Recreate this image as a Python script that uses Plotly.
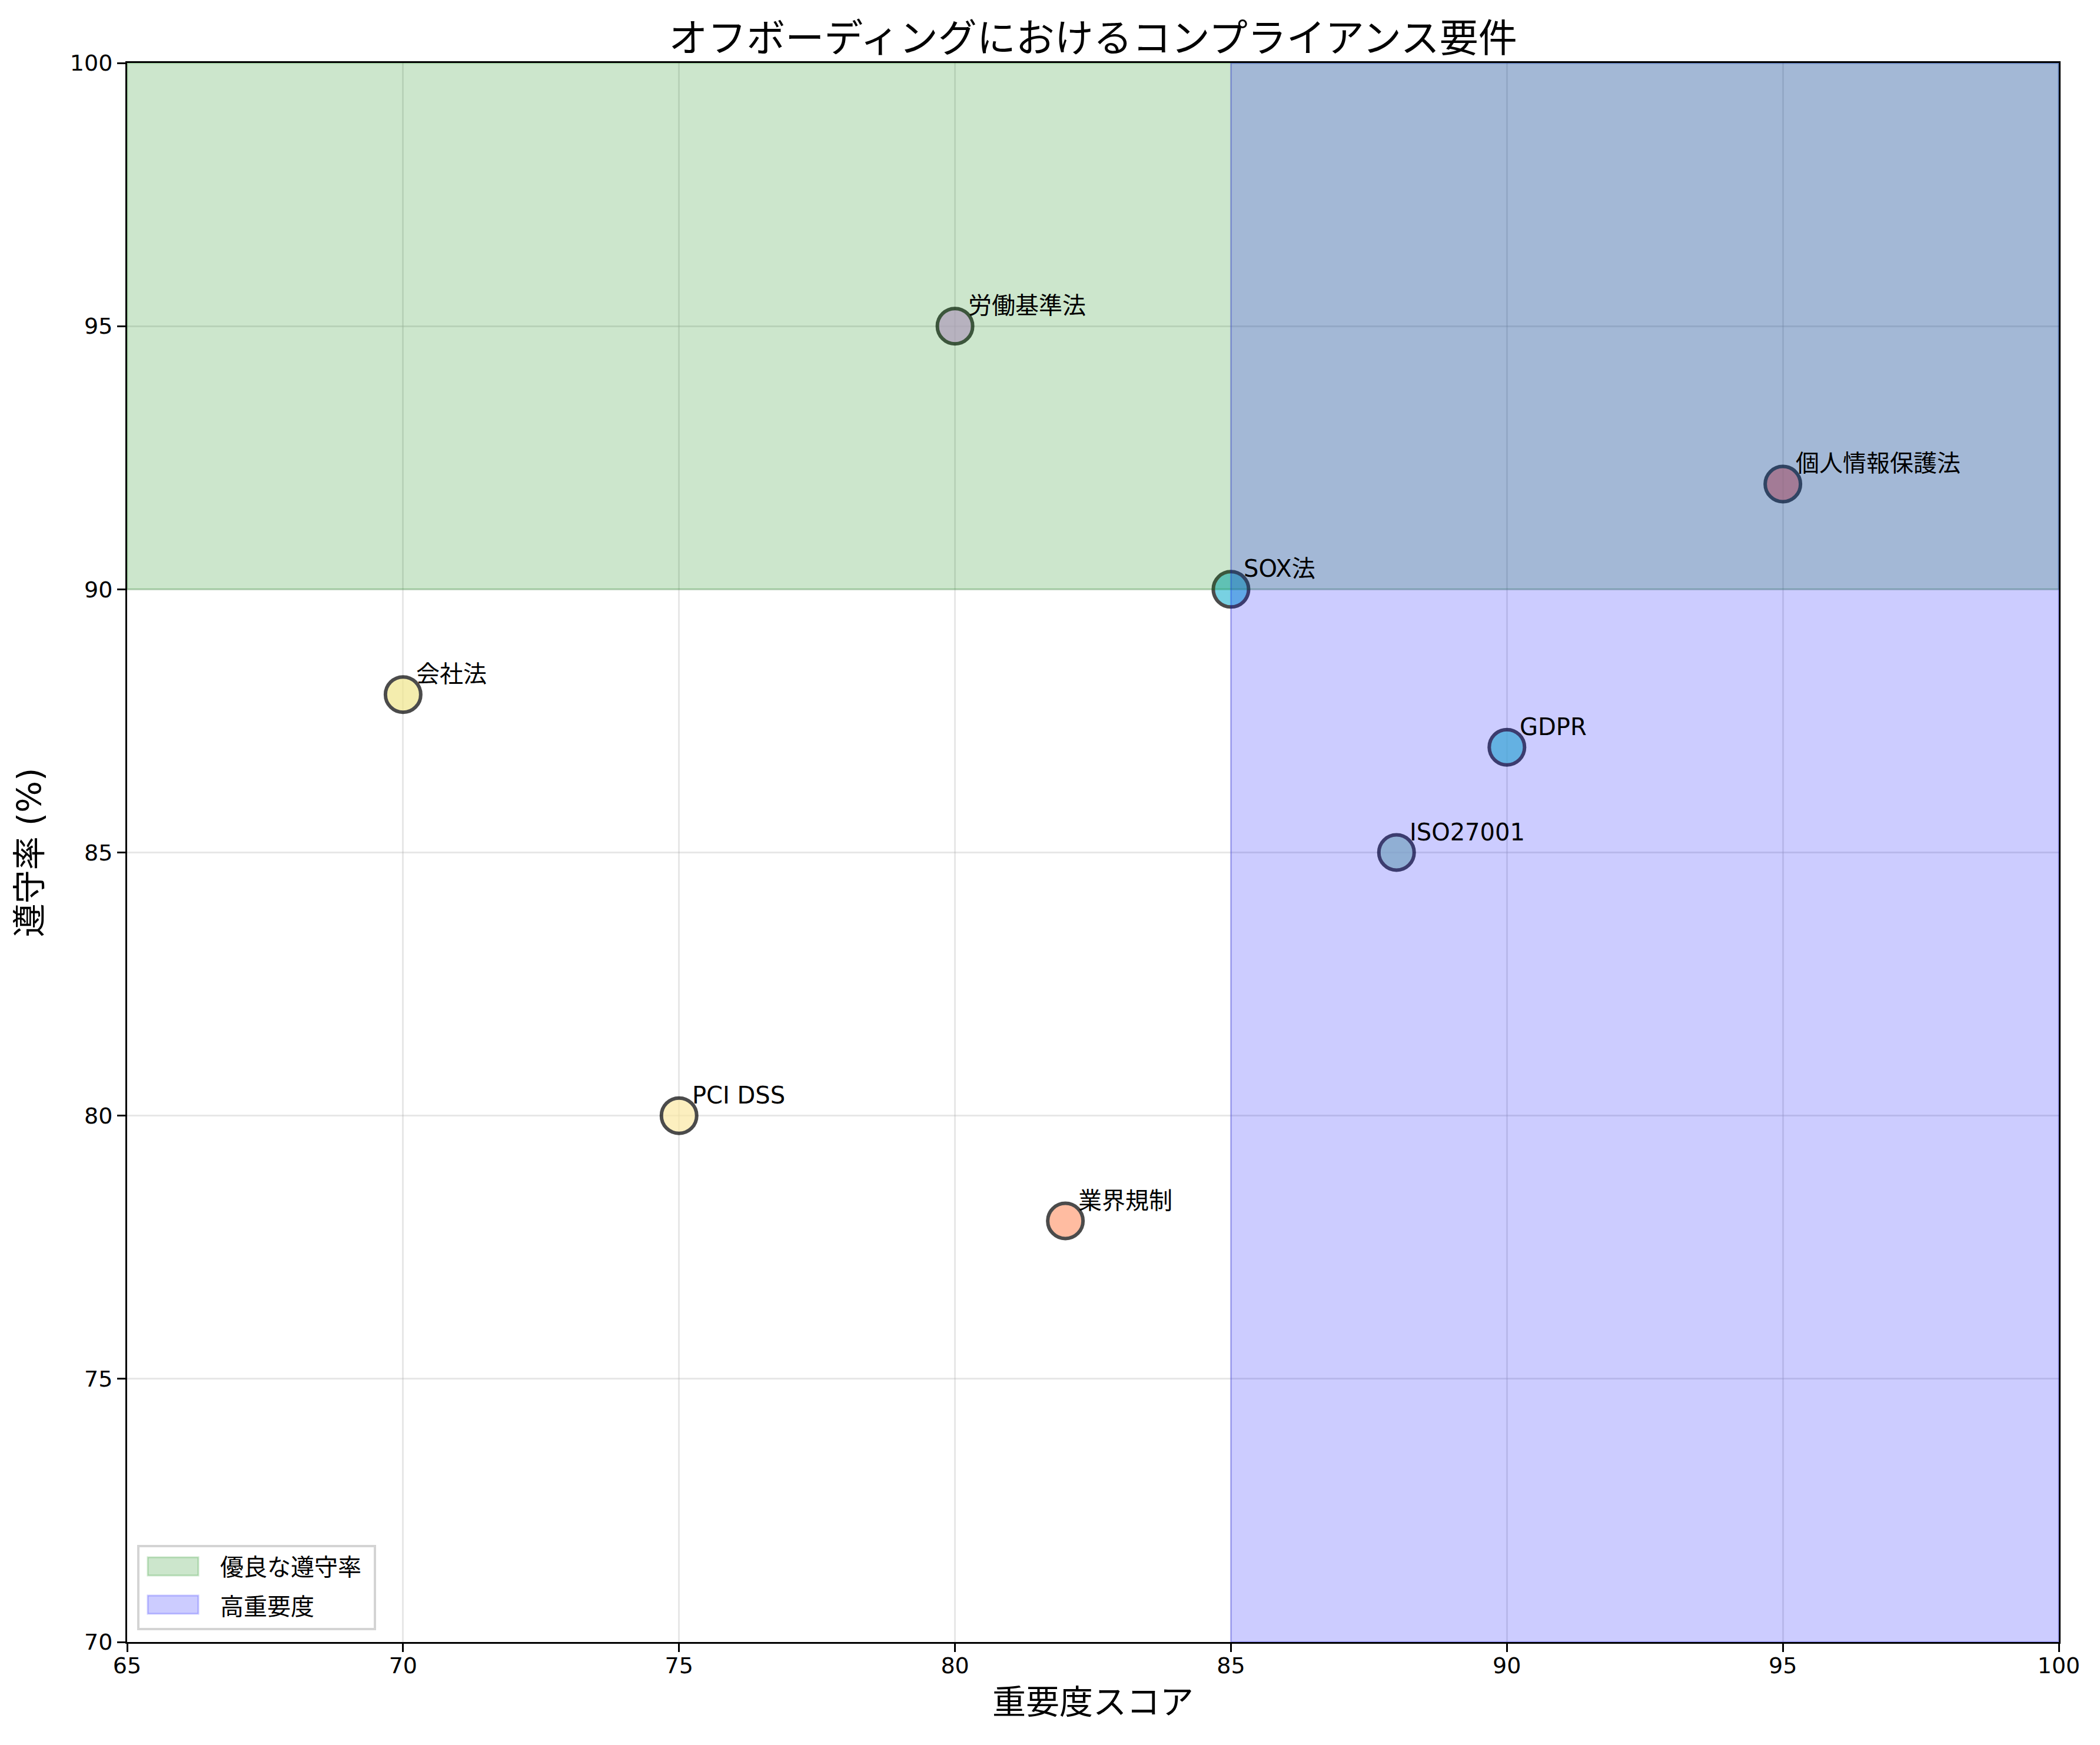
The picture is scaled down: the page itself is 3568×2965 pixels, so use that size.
import plotly.graph_objects as go

# ---- data ----
names = ["労働基準法", "個人情報保護法", "SOX法", "会社法", "GDPR", "ISO27001", "PCI DSS", "業界規制"]
importance = [80, 95, 85, 70, 90, 88, 75, 82]
compliance = [95, 92, 90, 88, 87, 85, 80, 78]
marker_colors = ["rgb(219,163,233)", "rgb(255,122,114)", "rgb(64,190,215)", "rgb(240,230,140)",
                 "rgb(72,209,204)", "rgb(151,205,180)", "rgb(252,233,165)", "rgb(255,160,122)"]

x_range = [65, 100]
y_range = [70, 100]
x_ticks = [65, 70, 75, 80, 85, 90, 95, 100]
y_ticks = [70, 75, 80, 85, 90, 95, 100]
high_compliance = 90
high_importance = 85
region_names = ["優良な遵守率", "高重要度"]
region_fills = ["rgba(0,128,0,0.2)", "rgba(0,0,255,0.2)"]

title = "オフボーディングにおけるコンプライアンス要件"
x_title = "重要度スコア"
y_title = "遵守率 (%)"

FONT = "DejaVu Sans, Noto Sans CJK JP"
CJK = "Noto Sans CJK JP"
W, H = 3568, 2965
ML, MR, MT, MB = 208, 78, 99, 183

fig = go.Figure()

fig.add_trace(go.Scatter(
    x=importance, y=compliance, mode="markers",
    marker=dict(size=60, color=marker_colors, opacity=0.7,
                line=dict(color="black", width=6)),
    showlegend=False, hoverinfo="text", text=names,
))

# green band: high compliance
fig.add_trace(go.Scatter(
    x=[x_range[0], x_range[1], x_range[1], x_range[0], x_range[0]],
    y=[high_compliance, high_compliance, y_range[1], y_range[1], high_compliance],
    mode="lines", fill="toself", fillcolor=region_fills[0],
    line=dict(color=region_fills[0], width=3),
    name=region_names[0], hoverinfo="skip", showlegend=False,
))
# blue band: high importance
fig.add_trace(go.Scatter(
    x=[high_importance, x_range[1], x_range[1], high_importance, high_importance],
    y=[y_range[0], y_range[0], y_range[1], y_range[1], y_range[0]],
    mode="lines", fill="toself", fillcolor=region_fills[1],
    line=dict(color=region_fills[1], width=3),
    name=region_names[1], hoverinfo="skip", showlegend=False,
))

for n, xv, yv in zip(names, importance, compliance):
    fig.add_annotation(x=xv, y=yv, text=n, showarrow=False,
                       xanchor="left", yanchor="bottom", xshift=20, yshift=10,
                       font=dict(family=FONT, size=40, color="black"))

# ---- custom legend (pixel offsets from the plot's bottom-left corner) ----
fig.add_shape(type="rect", xref="paper", yref="paper", xsizemode="pixel", ysizemode="pixel",
              xanchor=0, yanchor=0, x0=19, x1=421, y0=22, y1=163,
              fillcolor="rgba(255,255,255,0.8)", line=dict(color="#d4d4d4", width=4), layer="above")
legend_rows = [(113, 144, 130), (48, 79, 63)]
for (py0, py1, ty), nm, fc in zip(legend_rows, region_names, region_fills):
    fig.add_shape(type="rect", xref="paper", yref="paper", xsizemode="pixel", ysizemode="pixel",
                  xanchor=0, yanchor=0, x0=35, x1=121, y0=py0, y1=py1,
                  fillcolor=fc, line=dict(color=fc, width=3), layer="above")
    fig.add_annotation(x=0, y=0, xref="paper", yref="paper", xshift=156, yshift=ty,
                       text=nm, showarrow=False, xanchor="left", yanchor="middle",
                       font=dict(family=CJK, size=40, color="black"))

axis_common = dict(
    showline=True, linecolor="black", linewidth=3, mirror=True,
    ticks="outside", ticklen=14, tickwidth=3, tickcolor="black",
    showgrid=True, gridcolor="rgba(176,176,176,0.3)", gridwidth=3,
    zeroline=False, tickfont=dict(family=FONT, size=38, color="black"),
)

fig.update_layout(
    width=W, height=H,
    margin=dict(l=ML, r=MR, t=MT, b=MB),
    paper_bgcolor="white", plot_bgcolor="white",
    showlegend=False,
    title=dict(text=title, x=0.5, xref="paper", y=1 - 57 / H, yref="container",
               xanchor="center", yanchor="middle",
               font=dict(family=CJK, size=66, color="black")),
    xaxis=dict(range=x_range, tickvals=x_ticks, **axis_common, ticklabelstandoff=-10,
               title=dict(text=x_title, standoff=22, font=dict(family=CJK, size=57, color="black"))),
    yaxis=dict(range=y_range, tickvals=y_ticks, **axis_common,
               title=dict(text=y_title, standoff=30, font=dict(family=FONT, size=57, color="black"))),
)

fig.write_html("out.html")
